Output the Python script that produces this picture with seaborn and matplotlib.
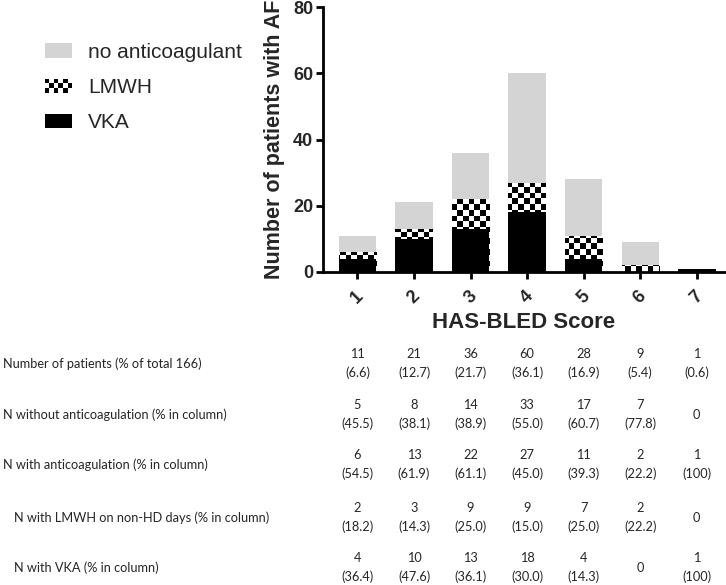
import seaborn as sns
import matplotlib.pyplot as plt
import matplotlib.transforms as mtransforms
from matplotlib.patches import Rectangle
import numpy as np

# HAS-BLED score categories and patient counts per treatment
scores = ['1', '2', '3', '4', '5', '6', '7']
vka = [4, 10, 13, 18, 4, 0, 1]
lmwh = [2, 3, 9, 9, 7, 2, 0]
no_anticoag = [5, 8, 14, 33, 17, 7, 0]

# Table rows below the chart: counts and percentages (as printed)
row_labels = ['Number of patients (% of total 166)',
              'N without anticoagulation (% in column)',
              'N with anticoagulation (% in column)',
              'N with LMWH on non-HD days (% in column)',
              'N with VKA (% in column)']
n_total = [11, 21, 36, 60, 28, 9, 1]
pct_total = ['6.6', '12.7', '21.7', '36.1', '16.9', '5.4', '0.6']
pct_none = ['45.5', '38.1', '38.9', '55.0', '60.7', '77.8', None]
n_anticoag = [6, 13, 22, 27, 11, 2, 1]
pct_anticoag = ['54.5', '61.9', '61.1', '45.0', '39.3', '22.2', '100']
pct_lmwh = ['18.2', '14.3', '25.0', '15.0', '25.0', '22.2', None]
pct_vka = ['36.4', '47.6', '36.1', '30.0', '14.3', None, '100']

GRAY = '#d4d4d4'

sns.set_style("white")
plt.rcParams['font.family'] = ['Liberation Sans', 'DejaVu Sans']

fig = plt.figure(figsize=(7.26, 5.85), dpi=100)
ax = fig.add_axes([323 / 726, 1 - 272 / 585, 402 / 726, 265 / 585])

# stacked bars drawn as layered cumulative totals
cum_lmwh = [v + l for v, l in zip(vka, lmwh)]
cum_all = [c + n for c, n in zip(cum_lmwh, no_anticoag)]

sns.barplot(x=scores, y=cum_all, color=GRAY, saturation=1, width=0.66,
            linewidth=0, ax=ax, zorder=1)
sns.barplot(x=scores, y=cum_lmwh, color='white', saturation=1, width=0.66,
            linewidth=0, ax=ax, zorder=2)
sns.barplot(x=scores, y=vka, color='black', saturation=1, width=0.66,
            linewidth=0, ax=ax, zorder=3)

# checkerboard fill for the LMWH layer, clipped to each bar
ny, nx = 47, 72
checker = (np.indices((ny, nx)).sum(axis=0) % 2).astype(float)
for patch in ax.containers[1].patches:
    im = ax.imshow(checker, cmap='gray', vmin=0, vmax=1, origin='lower',
                   extent=(0, 1, 0, 1), transform=ax.transAxes,
                   interpolation='nearest', aspect='auto', zorder=2.5)
    im.set_clip_path(patch)

ax.set_xlim(-0.61, 6.5)
ax.set_ylim(0, 80)
ax.set_yticks([0, 20, 40, 60, 80])

for side in ['top', 'right']:
    ax.spines[side].set_visible(False)
for side in ['left', 'bottom']:
    ax.spines[side].set_linewidth(2)
    ax.spines[side].set_color('black')
    ax.spines[side].set_zorder(5)

ax.tick_params(axis='both', which='major', length=5, width=2, color='black',
               direction='out', bottom=True, left=True, pad=2,
               labelsize=13)
ax.tick_params(axis='x', pad=6)
for lab in ax.get_yticklabels():
    lab.set_fontweight('bold')
for lab in ax.get_xticklabels():
    lab.set_fontweight('bold')
    lab.set_rotation(45)

ax.set_ylabel('Number of patients with AF', fontsize=15.5, fontweight='bold',
              labelpad=6)
ax.set_xlabel('HAS-BLED Score', fontsize=16, fontweight='bold', labelpad=4)


# legend with a checkerboard handle for LMWH
class CheckerHandler:
    def legend_artist(self, legend, orig_handle, fontsize, handlebox):
        x0, y0 = -handlebox.xdescent, -handlebox.ydescent
        w, h = handlebox.width, handlebox.height
        nc, nr = 6, 3
        first = None
        for i in range(nc):
            for j in range(nr):
                c = 'black' if (i + j) % 2 == 0 else 'white'
                r = Rectangle((x0 + i * w / nc, y0 + j * h / nr), w / nc, h / nr,
                              facecolor=c, edgecolor='none',
                              transform=handlebox.get_transform())
                handlebox.add_artist(r)
                if first is None:
                    first = r
        return first


h_none = Rectangle((0, 0), 1, 1, facecolor=GRAY, edgecolor='none')
h_lmwh = Rectangle((0, 0), 1, 1, facecolor='white', edgecolor='none')
h_vka = Rectangle((0, 0), 1, 1, facecolor='black', edgecolor='none')
fig.legend([h_none, h_lmwh, h_vka], ['no anticoagulant', 'LMWH', 'VKA'],
           loc='upper left', bbox_to_anchor=(0.0356, 0.959), frameon=False,
           fontsize=15, handlelength=1.33, handleheight=0.67,
           handletextpad=0.76, labelspacing=0.78,
           handler_map={h_lmwh: CheckerHandler()})

# table under the chart: columns aligned with the bars
tfont = ['Lato', 'DejaVu Sans']
tsize = 9.2
trans = mtransforms.blended_transform_factory(ax.transData, fig.transFigure)
row_y = [364, 415, 465, 518, 568]
row_x = [3, 3, 3, 14, 14]
row_n = [n_total, no_anticoag, n_anticoag, lmwh, vka]
row_p = [pct_total, pct_none, pct_anticoag, pct_lmwh, pct_vka]

for label, yp, xp, ns, ps in zip(row_labels, row_y, row_x, row_n, row_p):
    fy = 1 - yp / 585
    fig.text(xp / 726, fy, label, ha='left', va='center',
             family=tfont, fontsize=tsize)
    for i, (n, p) in enumerate(zip(ns, ps)):
        if p is None:
            ax.text(i, fy, str(n), transform=trans, ha='center', va='center',
                    family=tfont, fontsize=tsize)
        else:
            ax.text(i, fy + 10 / 585, str(n), transform=trans, ha='center',
                    va='center', family=tfont, fontsize=tsize)
            ax.text(i, fy - 9 / 585, f'({p})', transform=trans, ha='center',
                    va='center', family=tfont, fontsize=tsize)

plt.savefig('out.png', dpi=100, facecolor='white')
